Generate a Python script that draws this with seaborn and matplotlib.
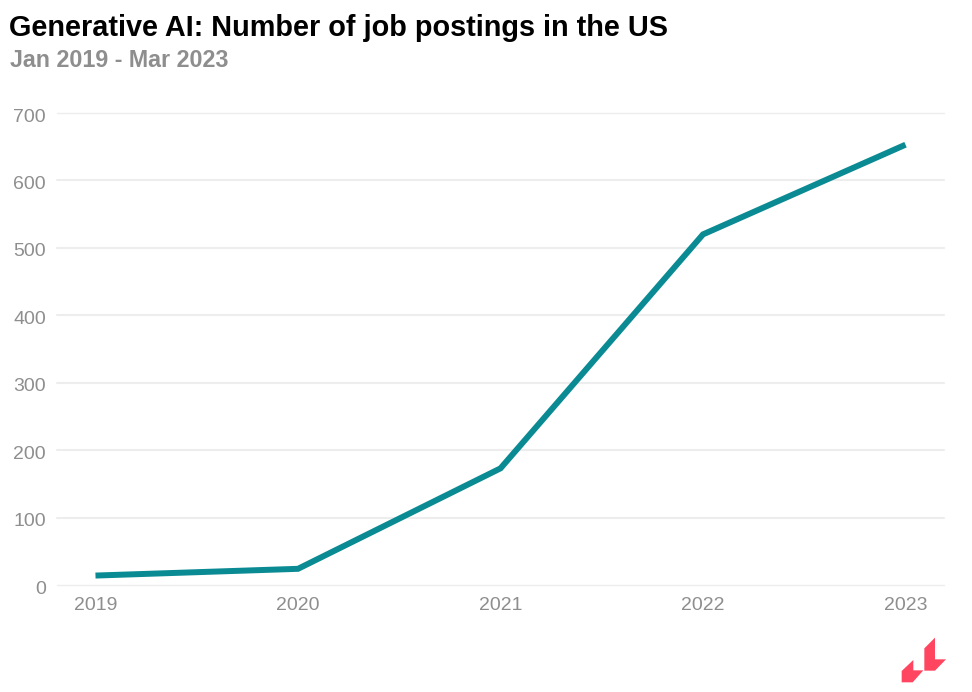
import matplotlib
matplotlib.use("Agg")
import matplotlib.pyplot as plt
from matplotlib.patches import Polygon
from matplotlib.transforms import ScaledTranslation
import seaborn as sns
import pandas as pd

years = [2019, 2020, 2021, 2022, 2023]
postings = [14, 24, 173, 520, 653]
y_ticks = [0, 100, 200, 300, 400, 500, 600, 700]

TITLE = "Generative AI: Number of job postings in the US"
SUBTITLE = "Jan 2019 - Mar 2023"
W, H = 972, 692

sns.set_theme(style="white")
plt.rcParams["font.family"] = ["Liberation Sans", "DejaVu Sans"]

df = pd.DataFrame({"year": years, "postings": postings})
fig = plt.figure(figsize=(W / 100, H / 100), dpi=100, facecolor="white")
ax = fig.add_axes([57 / W, 1 - 585 / H, (944 - 57) / W, (585 - 113) / H])

sns.lineplot(data=df, x="year", y="postings", ax=ax, color="#0A8A92",
             linewidth=4.3, solid_joinstyle="miter", solid_capstyle="butt", zorder=3)

ax.set_xlim(2018.81, 2023.19)
ax.set_ylim(0, 700)
ax.set_xticks(years)
ax.set_yticks(y_ticks)
ax.set_xlabel("")
ax.set_ylabel("")
ax.grid(axis="y", color="#EDEDED", linewidth=1.5)
ax.grid(axis="x", visible=False)
ax.set_axisbelow(True)
for s in ax.spines.values():
    s.set_visible(False)
for gl in ax.get_ygridlines():
    gl.set_clip_on(False)
ax.get_ygridlines()[0].set_linewidth(1.0)
ax.get_ygridlines()[-1].set_linewidth(1.0)
ax.tick_params(axis="x", length=0, pad=9, labelsize=14, labelcolor="#8E8E8E")
ax.tick_params(axis="y", length=0, pad=8, labelsize=14, labelcolor="#8E8E8E")
for lab in ax.get_yticklabels():
    lab.set_transform(lab.get_transform() + ScaledTranslation(0, -2 / 100, fig.dpi_scale_trans))

fig.text(9 / W, 1 - 28.5 / H, TITLE, fontsize=20.75, fontweight="bold", color="#000000", va="center", ha="left")
fig.text(10 / W, 1 - 60.5 / H, SUBTITLE, fontsize=16.75, fontweight="bold", color="#8E8E8E", va="center", ha="left")

def logo(points):
    pts = [((860 + zx / 3) / W, 1 - (600 + zy / 3) / H) for zx, zy in points]
    fig.add_artist(Polygon(pts, closed=True, transform=fig.transFigure, facecolor="#FF4560", edgecolor="none"))

logo([(125, 213), (160, 180), (160, 211), (190, 211), (158, 247), (125, 247)])
logo([(193, 145), (225, 113), (225, 178), (258, 178), (225, 212), (193, 212)])

fig.savefig("out.png", dpi=100, facecolor="white")
